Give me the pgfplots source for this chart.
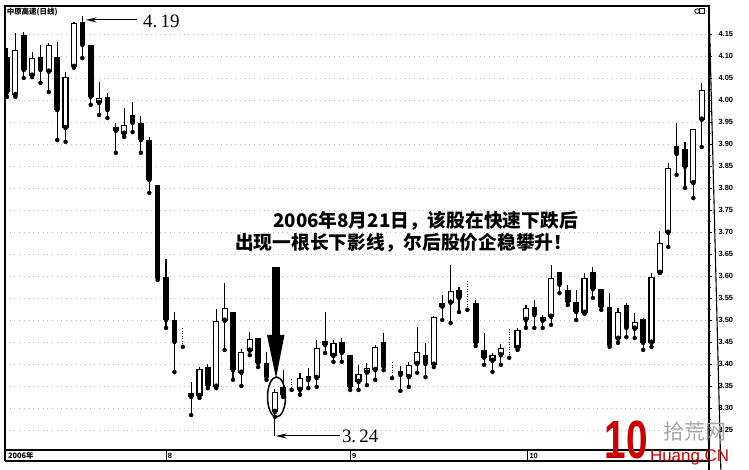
\documentclass[border=0pt]{standalone}
\usepackage{pgfplots}
\pgfplotsset{compat=1.18}
\usepackage{pgfplotstable}
\usepackage{fontspec}
\setmainfont{Liberation Sans}
\newfontfamily\serifnum{Liberation Serif}
\newfontfamily\cjk{Noto Sans CJK SC}
\usetikzlibrary{arrows.meta}

% white (up) candles: index open high low close
\pgfplotstableread{
i o h l c
1 4.011 4.152 4.007 4.114
3 4.055 4.109 4.052 4.095
5 4.064 4.130 4.018 4.125
7 3.936 4.064 3.905 4.052
8 4.075 4.177 4.073 4.175
11 3.993 4.041 3.966 4.005
14 3.923 3.982 3.916 3.943
23 3.327 3.393 3.323 3.389
25 3.348 3.525 3.345 3.498
26 3.498 3.584 3.432 3.527
28 3.380 3.434 3.350 3.427
29 3.430 3.473 3.420 3.457
32 3.291 3.343 3.280 3.336
35 3.341 3.380 3.330 3.368
37 3.368 3.455 3.348 3.436
39 3.418 3.455 3.405 3.448
42 3.359 3.398 3.341 3.377
43 3.380 3.402 3.352 3.391
44 3.386 3.443 3.364 3.439
48 3.370 3.405 3.348 3.398
49 3.400 3.484 3.380 3.427
51 3.398 3.509 3.393 3.507
53 3.539 3.625 3.493 3.566
58 3.407 3.425 3.382 3.420
59 3.420 3.445 3.398 3.436
61 3.436 3.482 3.432 3.477
62 3.500 3.534 3.482 3.527
64 3.498 3.511 3.482 3.507
65 3.507 3.625 3.489 3.595
69 3.516 3.607 3.514 3.595
73 3.457 3.527 3.448 3.518
75 3.480 3.516 3.459 3.495
77 3.448 3.607 3.439 3.598
78 3.607 3.702 3.607 3.675
79 3.698 3.857 3.666 3.845
82 3.811 3.934 3.777 3.934
83 3.955 4.039 3.893 4.023
}\upcandles

% black (down) candles
\pgfplotstableread{
i o h l c
0 4.098 4.118 4.007 4.018
2 4.148 4.155 4.050 4.068
4 4.098 4.125 4.039 4.068
6 4.098 4.132 3.909 3.977
9 4.177 4.190 4.095 4.125
10 4.125 4.125 3.989 4.007
12 4.007 4.016 3.959 3.977
13 3.939 3.948 3.880 3.930
15 3.966 3.995 3.927 3.948
16 3.948 3.964 3.880 3.909
17 3.909 3.916 3.789 3.818
18 3.807 3.807 3.591 3.595
19 3.598 3.639 3.482 3.500
20 3.500 3.518 3.382 3.450
22 3.334 3.359 3.284 3.325
24 3.393 3.400 3.345 3.350
27 3.518 3.518 3.364 3.386
30 3.459 3.459 3.393 3.402
31 3.402 3.427 3.364 3.370
33 3.348 3.386 3.325 3.330
36 3.372 3.391 3.345 3.363
38 3.452 3.518 3.425 3.443
40 3.450 3.459 3.405 3.425
41 3.420 3.420 3.341 3.348
45 3.450 3.470 3.386 3.393
47 3.384 3.395 3.339 3.375
50 3.420 3.448 3.370 3.400
52 3.539 3.557 3.500 3.530
54 3.568 3.575 3.518 3.550
56 3.539 3.545 3.441 3.448
57 3.432 3.470 3.398 3.414
63 3.530 3.545 3.482 3.511
66 3.609 3.609 3.561 3.580
67 3.568 3.580 3.534 3.541
68 3.541 3.568 3.500 3.518
70 3.609 3.620 3.550 3.570
71 3.570 3.570 3.523 3.530
72 3.530 3.561 3.439 3.443
74 3.534 3.539 3.461 3.482
76 3.502 3.505 3.432 3.448
80 3.895 3.948 3.830 3.877
81 3.889 3.905 3.800 3.848
}\downcandles

% faint dotted marks
\pgfplotstableread{
i l h
21 3.439 3.482
34 3.341 3.368
46 3.368 3.405
55 3.523 3.591
60 3.414 3.482
}\ghosts

\begin{document}
\begin{tikzpicture}
\useasboundingbox (0,0) rectangle (749bp,470bp);
\fill[white] (0,0) rectangle (749bp,470bp);
\begin{axis}[
  at={(5bp,20bp)}, anchor=south west,
  width=704bp, height=444bp, scale only axis,
  xmin=-0.24, xmax=83.87, ymin=3.2045, ymax=4.2136,
  xtick=\empty,
  ytick={3.25,3.30,3.35,3.40,3.45,3.50,3.55,3.60,3.65,3.70,3.75,3.80,3.85,3.90,3.95,4.00,4.05,4.10,4.15},
  minor y tick num=1,
  ytick pos=right, yticklabel pos=right,
  tick align=outside,
  major tick length=3bp, minor tick length=2bp,
  tick style={line width=0.8bp, black},
  yticklabel style={font=\fontsize{7.5}{8}\selectfont\bfseries, xshift=3bp,
    /pgf/number format/.cd, fixed, fixed zerofill, precision=2, assume math mode=true},
  ymajorgrids,
  grid style={gray!50, dash pattern=on 0.7bp off 4bp, line width=0.7bp},
  axis line style={line width=1.1bp, black},
  clip=false,
]
% wicks
\addplot[only marks, mark=none, forget plot,
  error bars/.cd, y dir=plus, y explicit, error mark=none,
  error bar style={line width=1.1bp, black}]
  table[x=i, y=l, y error plus expr=\thisrow{h}-\thisrow{l}] {\upcandles};
\addplot[only marks, mark=none, forget plot,
  error bars/.cd, y dir=plus, y explicit, error mark=none,
  error bar style={line width=1.1bp, black}]
  table[x=i, y=l, y error plus expr=\thisrow{h}-\thisrow{l}] {\downcandles};
% dotted marks
\addplot[only marks, mark=none, forget plot,
  error bars/.cd, y dir=plus, y explicit, error mark=none,
  error bar style={line width=0.9bp, black, dash pattern=on 0.9bp off 1.6bp}]
  table[x=i, y=l, y error plus expr=\thisrow{h}-\thisrow{l}] {\ghosts};
% black bodies
\addplot[only marks, mark=none, forget plot,
  error bars/.cd, y dir=plus, y explicit, error mark=none,
  error bar style={line width=5.6bp, black}]
  table[x=i, y=c, y error plus expr=\thisrow{o}-\thisrow{c}] {\downcandles};
% white bodies: outline then inside
\addplot[only marks, mark=none, forget plot,
  error bars/.cd, y dir=plus, y explicit, error mark=none,
  error bar style={line width=6.2bp, black}]
  table[x=i, y=o, y error plus expr=\thisrow{c}-\thisrow{o}] {\upcandles};
\addplot[only marks, mark=none, forget plot,
  error bars/.cd, y dir=plus, y explicit, error mark=none,
  error bar style={line width=3.8bp, white}]
  table[x=i, y expr=\thisrow{o}+0.0027, y error plus expr={max(\thisrow{c}-\thisrow{o}-0.0054,0)}] {\upcandles};

% title and icons
\node[anchor=west, inner sep=0pt, font=\cjk\bfseries\fontsize{7.5}{8}\selectfont] at (axis cs:-0.05,4.201) {中原高速(日线)};
\draw[line width=0.8bp] (axis cs:82.45,4.202) circle[radius=2.3bp];
\draw[line width=0.8bp] (axis cs:83.05,4.202) ++(-2.3bp,-2.5bp) rectangle ++(4.6bp,5bp);

% 4.19 annotation
\draw[line width=1bp, -{Stealth[length=11bp, width=5bp]}] (axis cs:15.5,4.182) -- (axis cs:9.4,4.182);
\node[anchor=west, inner sep=0pt, font=\serifnum\fontsize{19}{20}\selectfont] at (axis cs:16.25,4.178) {4.\,19};

% big arrow
\fill[black] (axis cs:31.66,3.620) rectangle (axis cs:32.60,3.466);
\fill[black] (axis cs:31.06,3.466) -- (axis cs:33.15,3.466) -- (axis cs:32.14,3.368) -- cycle;
% ellipse
\draw[line width=1.5bp] (axis cs:32.2,3.325) ellipse[x radius=9bp, y radius=20bp];
% 3.24 annotation
\draw[line width=1bp] (axis cs:31.98,3.2795) -- (axis cs:31.98,3.2364);
\draw[line width=1bp, -{Stealth[length=11bp, width=5bp]}] (axis cs:39.8,3.2364) -- (axis cs:32.1,3.2364);
\node[anchor=west, inner sep=0pt, font=\serifnum\fontsize{19}{20}\selectfont] at (axis cs:40.0,3.236) {3.\,24};

% main text
\node[anchor=west, inner sep=0pt, font=\cjk\bfseries\fontsize{18.8}{20}\selectfont] at (axis cs:31.78,3.725) {2006年8月21日，该股在快速下跌后};
\node[anchor=west, inner sep=0pt, font=\cjk\bfseries\fontsize{18.8}{20}\selectfont] at (axis cs:27.24,3.675) {出现一根长下影线，尔后股价企稳攀升！};

% date strip
\draw[line width=1.1bp] (axis cs:-0.24,3.1795) -- (axis cs:83.87,3.1795);
\draw[line width=1.1bp] (axis cs:-0.24,3.2045) -- (axis cs:-0.24,3.1795);
\draw[line width=1.1bp] (axis cs:83.87,3.2045) -- (axis cs:83.87,3.159);
\draw[line width=1.1bp] (axis cs:83.87,4.2136) -- ++(34bp,0);
\draw[line width=0.9bp] (axis cs:19.0,3.2045) -- (axis cs:19.0,3.1795);
\draw[line width=0.9bp] (axis cs:41.0,3.2045) -- (axis cs:41.0,3.1795);
\draw[line width=0.9bp] (axis cs:62.2,3.2045) -- (axis cs:62.2,3.1795);
\node[anchor=west, inner sep=0pt, font=\cjk\bfseries\fontsize{7.5}{8}\selectfont] at (axis cs:0.1,3.192) {2006年};
\node[anchor=west, inner sep=0pt, font=\bfseries\fontsize{7.5}{8}\selectfont] at (axis cs:19.2,3.192) {8};
\node[anchor=west, inner sep=0pt, font=\bfseries\fontsize{7.5}{8}\selectfont] at (axis cs:41.2,3.192) {9};
\node[anchor=west, inner sep=0pt, font=\bfseries\fontsize{7.5}{8}\selectfont] at (axis cs:62.4,3.192) {10};

% watermark
\node[anchor=west, inner sep=0pt, xscale=0.72, text=red!80!black, font=\bfseries\fontsize{54}{54}\selectfont] at (axis cs:71.4,3.228) {10};
\node[anchor=west, inner sep=0pt, text=gray!70, font=\cjk\fontsize{21}{21}\selectfont] at (axis cs:78.4,3.246) {拾荒网};
\node[anchor=west, inner sep=0pt, text=red!80!black, font=\fontsize{17}{17}\selectfont] at (axis cs:76.8,3.188) {Huang.CN};
\end{axis}
\end{tikzpicture}
\end{document}
